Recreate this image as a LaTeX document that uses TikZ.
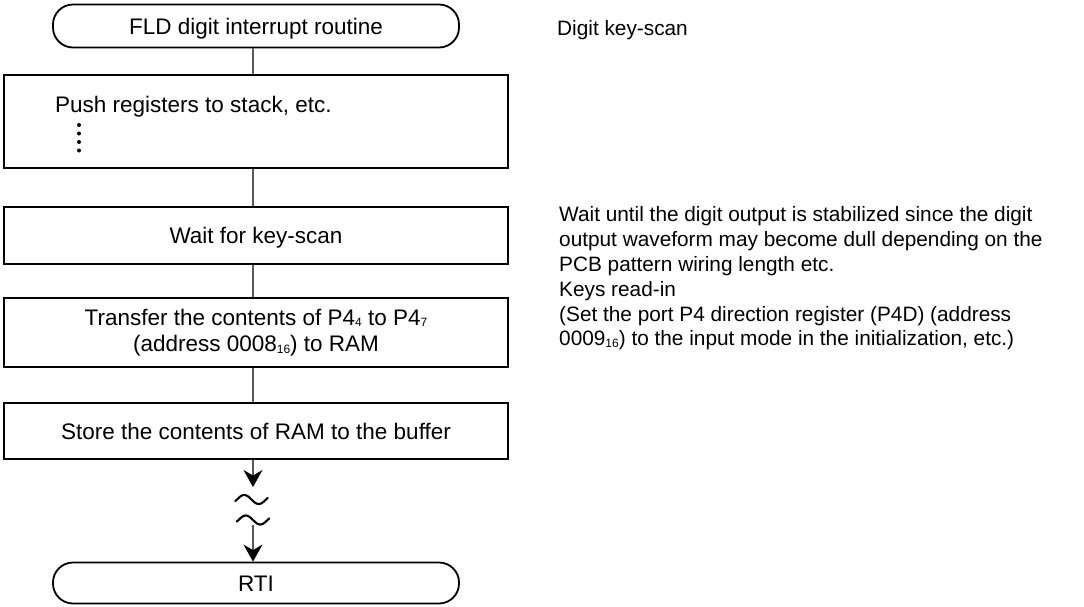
\documentclass[tikz,border=0pt]{standalone}
\usepackage{fontspec}
\setmainfont{Liberation Sans}
\usetikzlibrary{arrows.meta,calc}
\newcommand\mysub[1]{\raisebox{-1.6pt}{\fontsize{12}{12}\selectfont #1}}
\begin{document}
\begin{tikzpicture}[x=1pt,y=-1pt,
  every node/.style={font=\fontsize{22.5}{26.5}\selectfont},
  term/.style={draw, line width=1.8pt, rounded corners=20pt, minimum width=406pt, inner sep=0pt, text height=16pt, text depth=0pt},
  proc/.style={draw, line width=2pt, minimum width=504pt, inner sep=0pt},
  oneline/.style={text height=16pt, text depth=0pt},
  link/.style={draw=black!65, line width=1.2pt},
  arr/.style={draw=black!65, line width=1.2pt, -{Stealth[length=17pt,width=19pt,inset=5.5pt,color=black,fill=black]}},
  brk/.style={line width=2.1pt, line cap=round},
  note/.style={anchor=north west, inner sep=0pt, align=left, font=\fontsize{20.8}{24.6}\selectfont}
]
\useasboundingbox (0,0) rectangle (1084,606);

% flow nodes
\node[term, minimum height=43pt] (start) at (256,26) {FLD digit interrupt routine};
\node[proc, minimum height=93pt] (push) at (256,121.5) {};
\node[anchor=base west, inner sep=0pt] (pushtxt) at ($(push.north west)+(52,38)$) {Push registers to stack, etc.};
\foreach \yy in {125,133.5,142,150.5} \fill (79,\yy) circle (2pt);
\node[proc, oneline, minimum height=57pt] (wait) at (256,235.5) {Wait for key-scan};
\node[proc, minimum height=69pt, align=center] (xfer) at (256,332.5)
  {Transfer the contents of P4\mysub{4} to P4\mysub{7}\\(address 0008\mysub{16}) to RAM};
\node[proc, oneline, minimum height=56pt] (store) at (256,431) {Store the contents of RAM to the buffer};
\node[term, minimum height=41pt] (rti) at (256,583) {RTI};

% connectors
\draw[link] ([xshift=-3pt]start.south) -- ([xshift=-3pt]push.north);
\draw[link] ([xshift=-3pt]push.south) -- ([xshift=-3pt]wait.north);
\draw[link] ([xshift=-3pt]wait.south) -- ([xshift=-3pt]xfer.north);
\draw[link] ([xshift=-3pt]xfer.south) -- ([xshift=-3pt]store.north);
\coordinate (brk1) at (253,487);
\coordinate (brk2) at (253,525);
\draw[arr] ([xshift=-3pt]store.south) -- (brk1);
\draw[arr] (brk2) -- ([xshift=-3pt]rti.north);

% break marks (tildes)
\draw[brk] plot[domain=-0.06:1.06, samples=40, smooth] ({237+29*\x},{499.5-4.5*sin(360*\x)});
\draw[brk] plot[domain=-0.06:1.06, samples=40, smooth] ({238.5+29*\x},{520-4.5*sin(360*\x)});

% notes
\node[anchor=base west, inner sep=0pt, font=\fontsize{20.8}{24.6}\selectfont] (n1) at (557,35) {Digit key-scan};
\node[note] (n2) at (559,206.7) {Wait until the digit output is stabilized since the digit\\output waveform may become dull depending on the\\PCB pattern wiring length etc.};
\node[note] (n3) at (559,281.2) {Keys read-in\\(Set the port P4 direction register (P4D) (address\\0009\mysub{16}) to the input mode in the initialization, etc.)};
\end{tikzpicture}
\end{document}
